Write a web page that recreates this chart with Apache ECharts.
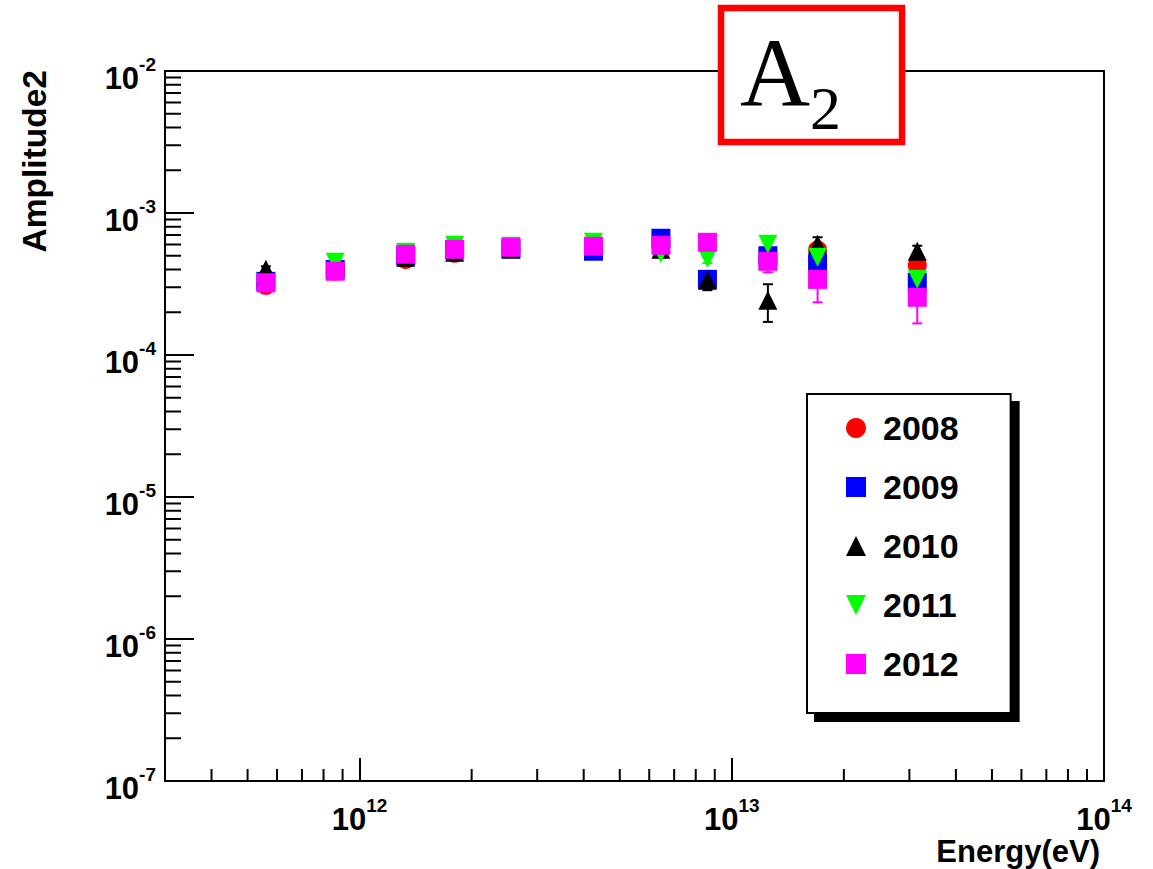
<!DOCTYPE html>
<html>
<head>
<meta charset="utf-8">
<script src="https://cdn.jsdelivr.net/npm/echarts@6/dist/echarts.min.js"></script>
<style>
  html, body { margin: 0; padding: 0; background: #ffffff; }
  #chart { width: 1153px; height: 869px; }
</style>
</head>
<body>
<div id="chart"></div>
<script>
// Energy bin centres (eV)
const energies = [5.6e11, 8.6e11, 1.33e12, 1.8e12, 2.55e12, 4.25e12, 6.45e12, 8.6e12, 1.25e13, 1.7e13, 3.15e13];

// Amplitude of the second harmonic per year, with its uncertainty
const amp2008 = [3.1e-4, 3.9e-4, 4.7e-4, 5.2e-4, 5.6e-4, 5.7e-4, 5.9e-4, 6.1e-4, 4.7e-4, 5.5e-4, 4.28e-4];
const err2008 = [0.15e-4, 0.2e-4, 0.25e-4, 0.25e-4, 0.3e-4, 0.3e-4, 0.35e-4, 0.4e-4, 0.4e-4, 0.5e-4, 0.5e-4];
const amp2009 = [3.3e-4, 4.0e-4, 5.0e-4, 5.5e-4, 5.6e-4, 5.38e-4, 6.64e-4, 3.41e-4, 5.0e-4, 4.4e-4, 3.25e-4];
const err2009 = [0.15e-4, 0.2e-4, 0.25e-4, 0.25e-4, 0.3e-4, 0.3e-4, 0.35e-4, 0.3e-4, 0.4e-4, 0.45e-4, 0.4e-4];
const amp2010 = [4.01e-4, 4.43e-4, 4.88e-4, 5.29e-4, 5.55e-4, 5.83e-4, 5.55e-4, 3.36e-4, 2.43e-4, 6.03e-4, 5.38e-4];
const err2010 = [0.2e-4, 0.2e-4, 0.25e-4, 0.3e-4, 0.3e-4, 0.35e-4, 0.67e-4, 0.5e-4, 0.72e-4, 0.72e-4, 0.5e-4];
const amp2011 = [3.2e-4, 4.5e-4, 5.29e-4, 5.93e-4, 5.83e-4, 6.22e-4, 5.2e-4, 4.8e-4, 6.03e-4, 4.87e-4, 3.41e-4];
const err2011 = [0.15e-4, 0.2e-4, 0.25e-4, 0.3e-4, 0.3e-4, 0.3e-4, 0.3e-4, 0.35e-4, 0.45e-4, 0.45e-4, 0.4e-4];
const amp2012 = [3.22e-4, 3.89e-4, 5.12e-4, 5.55e-4, 5.74e-4, 5.83e-4, 5.93e-4, 6.22e-4, 4.57e-4, 3.41e-4, 2.55e-4];
const err2012 = [0.5e-4, 0.2e-4, 0.25e-4, 0.3e-4, 0.3e-4, 0.3e-4, 0.35e-4, 0.4e-4, 0.75e-4, 1.06e-4, 0.88e-4];

const years = ['2008', '2009', '2010', '2011', '2012'];
const amps = [amp2008, amp2009, amp2010, amp2011, amp2012];
const errs = [err2008, err2009, err2010, err2011, err2012];
const colors = ['#ff0000', '#0000ff', '#000000', '#00ff00', '#ff00ff'];
const symbols = ['circle', 'rect', 'triangle', 'path://M0,0 L10,0 L5,10 Z', 'rect'];

// Axis ranges and minor tick positions (2..9 within each decade)
const xRange = [3e11, 1e14];
const yRange = [1e-7, 1e-2];
const minorSteps = [2, 3, 4, 5, 6, 7, 8, 9];
const xDecades = [1e11, 1e12, 1e13];
const yDecades = [1e-7, 1e-6, 1e-5, 1e-4, 1e-3];

const xMinor = [];
xDecades.forEach(d => minorSteps.forEach(s => { const v = s * d; if (v > xRange[0] && v < xRange[1]) xMinor.push([v, yRange[0]]); }));
const yMinor = [];
yDecades.forEach(d => minorSteps.forEach(s => { const v = s * d; if (v > yRange[0] && v < yRange[1]) yMinor.push([xRange[0], v]); }));

const FONT = 'Liberation Sans';

function powerLabel(value) {
  const e = Math.round(Math.log10(value));
  if (Math.abs(Math.log10(value) - e) > 1e-6) return '';
  return '{b|10}{s|' + e + '}';
}

const labelRich = {
  b: { fontFamily: FONT, fontWeight: 'bold', fontSize: 31, lineHeight: 39, verticalAlign: 'bottom', color: '#000' },
  s: { fontFamily: FONT, fontWeight: 'bold', fontSize: 19, lineHeight: 19, verticalAlign: 'top', color: '#000' }
};

function xMinorTick(params, api) {
  const cs = params.coordSys;
  const x = api.coord([api.value(0), api.value(1)])[0];
  const y0 = cs.y + cs.height;
  return { type: 'line', shape: { x1: x, y1: y0, x2: x, y2: y0 - 12 }, style: { stroke: '#000', lineWidth: 2 } };
}

function yMinorTick(params, api) {
  const cs = params.coordSys;
  const y = api.coord([api.value(0), api.value(1)])[1];
  const x0 = cs.x;
  return { type: 'line', shape: { x1: x0, y1: y, x2: x0 + 16, y2: y }, style: { stroke: '#000', lineWidth: 2 } };
}

function errorBar(color) {
  return function (params, api) {
    const x = api.value(0), v = api.value(1), e = api.value(2);
    const hi = api.coord([x, v + e]);
    const lo = api.coord([x, v - e]);
    const hw = 5;
    const st = { stroke: color, lineWidth: 2 };
    return {
      type: 'group',
      children: [
        { type: 'line', shape: { x1: hi[0], y1: hi[1], x2: lo[0], y2: lo[1] }, style: st },
        { type: 'line', shape: { x1: hi[0] - hw, y1: hi[1], x2: hi[0] + hw, y2: hi[1] }, style: st },
        { type: 'line', shape: { x1: lo[0] - hw, y1: lo[1], x2: lo[0] + hw, y2: lo[1] }, style: st }
      ]
    };
  };
}

const series = [];
years.forEach((yr, k) => {
  series.push({
    type: 'custom',
    name: yr + ' errors',
    silent: true,
    clip: false,
    renderItem: errorBar(colors[k]),
    encode: { x: 0, y: 1 },
    data: energies.map((e, i) => [e, amps[k][i], errs[k][i]])
  });
  series.push({
    type: 'scatter',
    name: yr,
    silent: true,
    symbol: symbols[k],
    symbolSize: 19,
    itemStyle: { color: colors[k], opacity: 1 },
    data: energies.map((e, i) => [e, amps[k][i]])
  });
});
series.push({ type: 'custom', name: 'x minor ticks', silent: true, clip: false, renderItem: xMinorTick, encode: { x: 0, y: 1 }, data: xMinor });
series.push({ type: 'custom', name: 'y minor ticks', silent: true, clip: false, renderItem: yMinorTick, encode: { x: 0, y: 1 }, data: yMinor });

const chart = echarts.init(document.getElementById('chart'), null, { renderer: 'svg' });
chart.setOption({
  animation: false,
  backgroundColor: '#ffffff',
  graphic: [
    {
      type: 'rect',
      z: 100,
      shape: { x: 721, y: 8, width: 181, height: 134 },
      style: { fill: '#ffffff', stroke: '#ff0000', lineWidth: 6.5 }
    },
    {
      type: 'text',
      z: 101,
      x: 740,
      y: 5,
      style: {
        text: '{a|A}{s|2}',
        align: 'left',
        verticalAlign: 'top',
        rich: {
          a: { fontFamily: 'Liberation Serif', fontSize: 97, lineHeight: 134, fill: '#000' },
          s: { fontFamily: 'Liberation Serif', fontSize: 62, lineHeight: 72, verticalAlign: 'bottom', fill: '#000' }
        }
      }
    }
  ],
  legend: {
    orient: 'vertical',
    left: 807,
    top: 394,
    data: years,
    padding: [17, 52, 32, 39],
    itemGap: 25,
    itemWidth: 20,
    itemHeight: 20,
    backgroundColor: '#ffffff',
    borderColor: '#000',
    borderWidth: 2,
    borderRadius: 0,
    shadowColor: '#000',
    shadowBlur: 0,
    shadowOffsetX: 8,
    shadowOffsetY: 8,
    selectedMode: false,
    textStyle: { fontFamily: FONT, fontWeight: 'bold', fontSize: 34, lineHeight: 34, color: '#000', padding: [0, 0, 0, 12] }
  },
  grid: {
    left: 165, top: 71, width: 939, height: 710,
    show: true, borderColor: '#000', borderWidth: 2, backgroundColor: 'transparent',
    containLabel: false,
    outerBoundsMode: 'none'
  },
  xAxis: {
    type: 'log',
    logBase: 10,
    min: xRange[0],
    max: xRange[1],
    name: 'Energy(eV)',
    nameLocation: 'end',
    nameGap: -4,
    nameMoveOverlap: false,
    nameTextStyle: { fontFamily: FONT, fontWeight: 'bold', fontSize: 31, lineHeight: 31, color: '#000', align: 'right', verticalAlign: 'top', padding: [55, 0, 0, 0] },
    axisLine: { show: true, lineStyle: { color: '#000', width: 2 } },
    axisTick: { show: true, inside: true, length: 23, lineStyle: { color: '#000', width: 2 } },
    minorTick: { show: false },
    splitLine: { show: false },
    axisLabel: { margin: 15, formatter: powerLabel, rich: labelRich, showMinLabel: true, showMaxLabel: true, hideOverlap: false }
  },
  yAxis: {
    type: 'log',
    logBase: 10,
    min: yRange[0],
    max: yRange[1],
    name: 'Amplitude2',
    nameLocation: 'end',
    nameRotate: 90,
    nameGap: 1,
    nameMoveOverlap: false,
    nameTextStyle: { fontFamily: FONT, fontWeight: 'bold', fontSize: 33.5, lineHeight: 33.5, color: '#000', align: 'right', verticalAlign: 'bottom', padding: [0, 0, 114, 0] },
    axisLine: { show: true, lineStyle: { color: '#000', width: 2 } },
    axisTick: { show: true, inside: true, length: 29, lineStyle: { color: '#000', width: 2 } },
    minorTick: { show: false },
    splitLine: { show: false },
    axisLabel: { margin: 9, padding: [7, 0, 0, 0], formatter: powerLabel, rich: labelRich, showMinLabel: true, showMaxLabel: true, hideOverlap: false }
  },
  series: series
});
</script>
</body>
</html>
